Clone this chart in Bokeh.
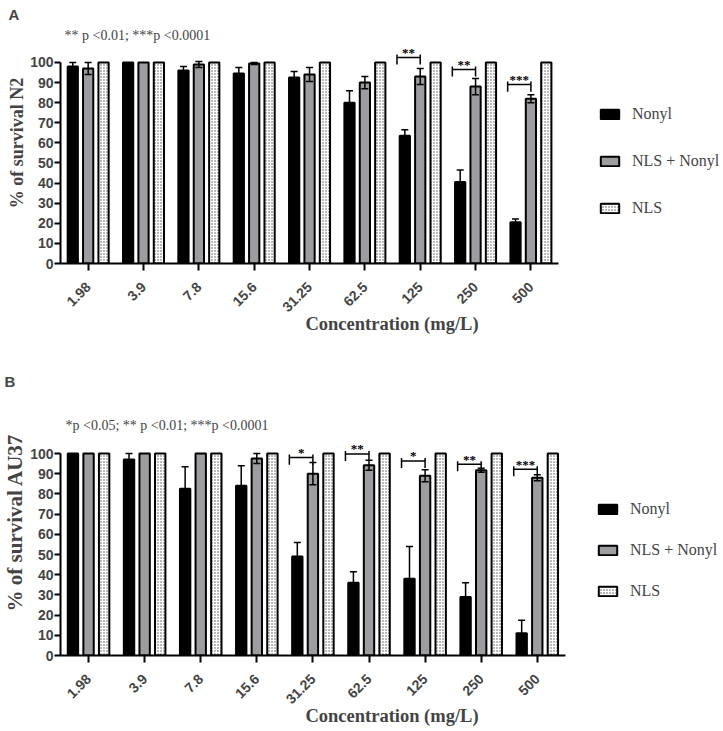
import numpy as np
from bokeh.plotting import figure
from bokeh.models import (ColumnDataSource, FixedTicker, Whisker, TeeHead, Legend,
                          LegendItem, Label, Range1d)
from bokeh.layouts import column
from bokeh.embed import file_html
from bokeh.resources import INLINE
from bokeh.core.properties import value

# ---------------- data ----------------
concentrations = ["1.98", "3.9", "7.8", "15.6", "31.25", "62.5", "125", "250", "500"]
series = ["Nonyl", "NLS + Nonyl", "NLS"]

# Panel A (N2)
a_nonyl = [98, 100, 96, 94.5, 92.5, 80, 63.5, 40.5, 20.5]
a_nonyl_err = [2, 0, 2, 3, 3, 6, 3, 6, 1.7]
a_combo = [97, 100, 99, 99.5, 94, 90, 93, 88, 82]
a_combo_err = [3, 0, 1.5, 0.5, 3.5, 3, 4, 4, 2]
a_nls = [100, 100, 100, 100, 100, 100, 100, 100, 100]
a_sig_cat = ["125", "250", "500"]
a_sig_lab = ["**", "**", "***"]
a_sig_y = [102.5, 96.5, 89]
a_note = "** p <0.01; ***p <0.0001"
a_ylabel = "% of survival N2"

# Panel B (AU37)
b_nonyl = [100, 97, 82.5, 84, 49, 36, 38, 29, 11]
b_nonyl_err = [0, 3, 11, 10, 7, 5.5, 16, 7, 6.5]
b_combo = [100, 100, 100, 97.5, 90, 94.2, 89, 91.7, 88]
b_combo_err = [0, 0, 0, 2.5, 5.5, 2.5, 3, 1, 1.5]
b_nls = [100, 100, 100, 100, 100, 100, 100, 100, 100]
b_sig_cat = ["31.25", "62.5", "125", "250", "500"]
b_sig_lab = ["*", "**", "*", "**", "***"]
b_sig_y = [98, 99.8, 96.3, 94.7, 92.2]
b_note = "*p <0.05; ** p <0.01; ***p <0.0001"
b_ylabel = "% of survival AU37"

xlabel = "Concentration (mg/L)"
yticks = [0, 10, 20, 30, 40, 50, 60, 70, 80, 90, 100]

SERIF = "Liberation Serif"
SANS = "Liberation Sans"
GRAY = "#9d9da1"


def make_panel(letter, note, ylabel, nonyl, nonyl_err, combo, combo_err, nls,
               sig_cat, sig_lab, sig_y, height, ymax, xmax, border, legend_loc,
               legend_spacing, note_pos, ylabel_size):
    bl, bt, bb = border
    p = figure(width=723, height=height, output_backend="svg", toolbar_location=None,
               x_range=Range1d(-0.5, xmax), y_range=Range1d(0, ymax),
               min_border_left=bl, min_border_right=0, min_border_top=bt,
               min_border_bottom=bb)
    p.grid.visible = False
    p.outline_line_color = None
    p.background_fill_color = "white"

    # panel letter as title, pushed left of the y axis
    p.title.text = letter
    p.title.align = "left"
    p.title.offset = -(bl - 4)
    p.title.standoff = 0
    p.title.text_font = SANS
    p.title.text_font_style = "bold"
    p.title.text_font_size = "15px"

    idx = np.arange(len(concentrations))
    off = 0.278
    w = 0.185
    src_n = ColumnDataSource(dict(x=idx - off, top=nonyl))
    src_c = ColumnDataSource(dict(x=idx, top=combo))
    src_s = ColumnDataSource(dict(x=idx + off, top=nls))
    r_n = p.vbar(x="x", top="top", width=w, bottom=0, source=src_n,
                 fill_color="black", line_color="black", line_width=2)
    r_c = p.vbar(x="x", top="top", width=w, bottom=0, source=src_c,
                 fill_color=GRAY, line_color="black", line_width=2)
    r_s = p.vbar(x="x", top="top", width=w, bottom=0, source=src_s,
                 fill_color="white", line_color="black", line_width=2,
                 hatch_pattern="dot", hatch_scale=3, hatch_color="#555555",
                 hatch_weight=1)

    # error bars
    for xs, vals, errs in ((idx - off, nonyl, nonyl_err), (idx, combo, combo_err)):
        sel = [i for i in range(len(vals)) if errs[i] > 0]
        es = ColumnDataSource(dict(
            base=[xs[i] for i in sel],
            upper=[vals[i] + errs[i] for i in sel],
            lower=[vals[i] - errs[i] for i in sel]))
        wk = Whisker(source=es, base="base", upper="upper", lower="lower",
                     line_color="black", line_width=1.5,
                     upper_head=TeeHead(size=7, line_color="black", line_width=1.5),
                     lower_head=TeeHead(size=7, line_color="black", line_width=1.5),
                     level="overlay")
        p.add_layout(wk)

    # significance brackets
    bi = np.array([concentrations.index(c) for c in sig_cat], dtype=float)
    sy = np.array(sig_y, dtype=float)
    x0 = bi - 0.42
    x1 = bi + 0.0
    p.segment(x0=x0, y0=sy, x1=x1, y1=sy, line_color="black", line_width=1.5)
    p.segment(x0=x0, y0=sy + 1.5, x1=x0, y1=sy - 3.5, line_color="black", line_width=1.5)
    p.segment(x0=x1, y0=sy + 1.5, x1=x1, y1=sy - 3.5, line_color="black", line_width=1.5)
    p.text(x=(x0 + x1) / 2, y=sy + 2.5, text=sig_lab, text_align="center",
           text_baseline="middle", text_font=value(SERIF), text_font_style="bold",
           text_font_size="13px", text_color="black")

    # axes
    xa = p.xaxis[0]
    xa.ticker = FixedTicker(ticks=list(range(len(concentrations))))
    xa.bounds = (-0.5, 8.5)
    xa.major_label_overrides = {i: c for i, c in enumerate(concentrations)}
    xa.major_label_orientation = np.pi / 4
    xa.major_label_text_font = SANS
    xa.major_label_text_font_style = "bold"
    xa.major_label_text_font_size = "14px"
    xa.major_label_standoff = 14
    xa.major_tick_out = 7
    xa.major_tick_in = 0
    xa.minor_tick_line_color = None
    xa.axis_line_width = 2
    xa.major_tick_line_width = 2
    xa.axis_label = xlabel
    xa.axis_label_text_font = SERIF
    xa.axis_label_text_font_style = "bold"
    xa.axis_label_text_font_size = "18.5px"
    xa.axis_label_standoff = -5

    ya = p.yaxis[0]
    ya.ticker = FixedTicker(ticks=yticks)
    ya.bounds = (0, 100)
    ya.major_label_text_font = SANS
    ya.major_label_text_font_style = "bold"
    ya.major_label_text_font_size = "14px"
    ya.major_label_standoff = 1
    ya.major_tick_out = 6
    ya.major_tick_in = 0
    ya.minor_tick_line_color = None
    ya.axis_line_width = 2
    ya.major_tick_line_width = 2
    ya.axis_label = ylabel
    ya.axis_label_text_font = SERIF
    ya.axis_label_text_font_style = "bold"
    ya.axis_label_text_font_size = ylabel_size
    ya.axis_label_standoff = 0

    # legend (inside the widened frame, to the right of the x-axis extent)
    legend = Legend(items=[LegendItem(label=series[0], renderers=[r_n]),
                           LegendItem(label=series[1], renderers=[r_c]),
                           LegendItem(label=series[2], renderers=[r_s])],
                    location=legend_loc, glyph_width=23, glyph_height=12,
                    label_text_font=SERIF, label_text_font_size="16px",
                    label_standoff=11, spacing=legend_spacing, padding=0, margin=0,
                    border_line_alpha=0, background_fill_alpha=0)
    p.add_layout(legend)

    p.add_layout(Label(x=note_pos[0], y=note_pos[1], x_units="screen", y_units="screen",
                       text=note, text_font=SERIF, text_font_size="14px",
                       text_baseline="middle"))
    return p


pA = make_panel("A", a_note, a_ylabel, a_nonyl, a_nonyl_err, a_combo, a_combo_err, a_nls,
                a_sig_cat, a_sig_lab, a_sig_y, height=355, ymax=119.9, xmax=11.48,
                border=(56, 22, 92), legend_loc=(538, 46), legend_spacing=29,
                note_pos=(4, 228), ylabel_size="18px")
pB = make_panel("B", b_note, b_ylabel, b_nonyl, b_nonyl_err, b_combo, b_combo_err, b_nls,
                b_sig_cat, b_sig_lab, b_sig_y, height=376, ymax=131.7, xmax=11.32,
                border=(60, 34, 76), legend_loc=(536, 55), legend_spacing=23,
                note_pos=(5, 230), ylabel_size="21px")

layout = column(pA, pB)
open("out.html", "w").write(file_html(layout, INLINE))
